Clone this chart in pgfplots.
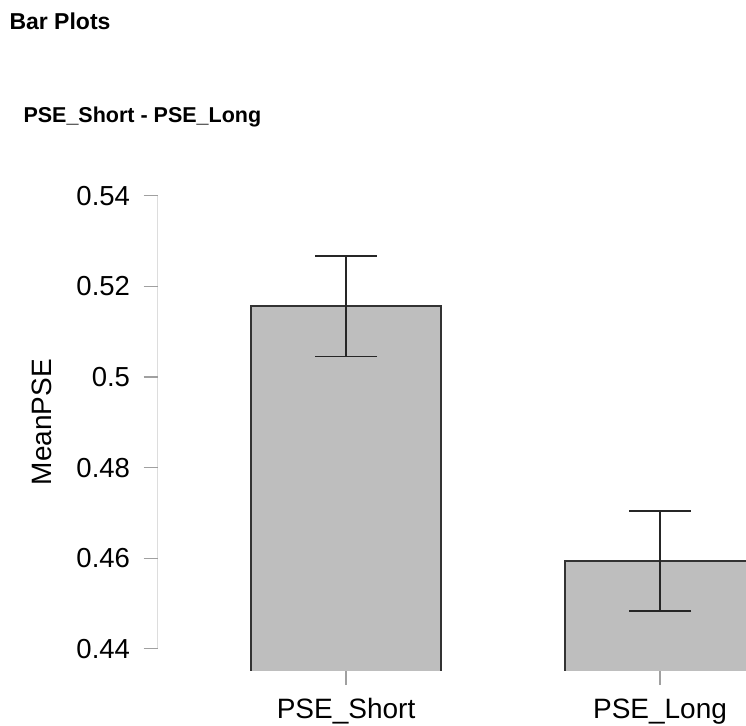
\documentclass[border=0pt]{standalone}
\usepackage{fontspec}
\setmainfont{Liberation Sans}
\usepackage{pgfplots}
\pgfplotsset{compat=1.18}
\definecolor{barfill}{HTML}{BEBEBE}
\definecolor{axgray}{HTML}{A0A0A0}
\begin{document}
\begin{tikzpicture}
\path[use as bounding box] (0,0) rectangle (746pt,725pt);
\node[anchor=base west, inner sep=0pt, font=\fontsize{23}{27}\selectfont\bfseries] at (9.3pt,695pt) {Bar Plots};
\node[anchor=base west, inner sep=0pt, font=\fontsize{21.5}{26}\selectfont\bfseries] at (23.3pt,602.7pt) {PSE\_Short - PSE\_Long};
\begin{axis}[
  at={(157.7pt,54pt)}, anchor=south west,
  scale only axis, width=588.3pt, height=497.5pt,
  xmin=-0.6, xmax=1.2739, ymin=0.4351, ymax=0.5449,
  axis lines*=left,
  separate axis lines,
  x axis line style={draw=none},
  y axis line style={draw=none},
  tick align=outside,
  major tick length=14pt,
  every tick/.style={draw=axgray, line width=1.3pt},
  xtick={0,1}, xticklabels={PSE\_Short,PSE\_Long},
  ytick={0.44,0.46,0.48,0.5,0.52,0.54},
  yticklabels={0.44,0.46,0.48,0.5,0.52,0.54},
  /pgf/number format/assume math mode=true,
  yticklabel style={font=\fontsize{27.5}{32}\selectfont, anchor=east, inner sep=0pt, xshift=-13.5pt},
  xticklabel style={font=\fontsize{28}{33}\selectfont, anchor=base, inner sep=0pt, yshift=-33.3pt},
  ylabel={MeanPSE},
  ylabel style={font=\fontsize{28}{33}\selectfont, at={(axis description cs:-0.1967,0.5)}, anchor=center, rotate=0, inner sep=0pt},
  clip=true,
]
% bar fills
\addplot[ybar, bar width=0.605, fill=barfill, draw=none]
  coordinates {(0,0.5156) (1,0.4594)};
% bar outlines (left, top, right sides; bottom lies outside the plot region)
\addplot[sharp plot, draw=black!80, line width=1.8pt, mark=none]
  coordinates {(-0.3025,0.40) (-0.3025,0.5156) (0.3025,0.5156) (0.3025,0.40)};
\addplot[sharp plot, draw=black!80, line width=1.8pt, mark=none]
  coordinates {(0.6975,0.40) (0.6975,0.4594) (1.3025,0.4594) (1.3025,0.40)};
% error bars
\addplot[draw=none, mark=none,
  error bars/.cd, y dir=both, y explicit,
  error bar style={line width=1.8pt, draw=black!85},
  error mark options={rotate=90, mark size=31pt, line width=1.8pt, draw=black!85}]
  coordinates {(0,0.5156) +- (0,0.0111) (1,0.4594) +- (0,0.0110)};
\draw[axgray, line width=1.3pt] (axis cs:-0.6,0.44) -- (axis cs:-0.6,0.54);
\end{axis}
\end{tikzpicture}
\end{document}
